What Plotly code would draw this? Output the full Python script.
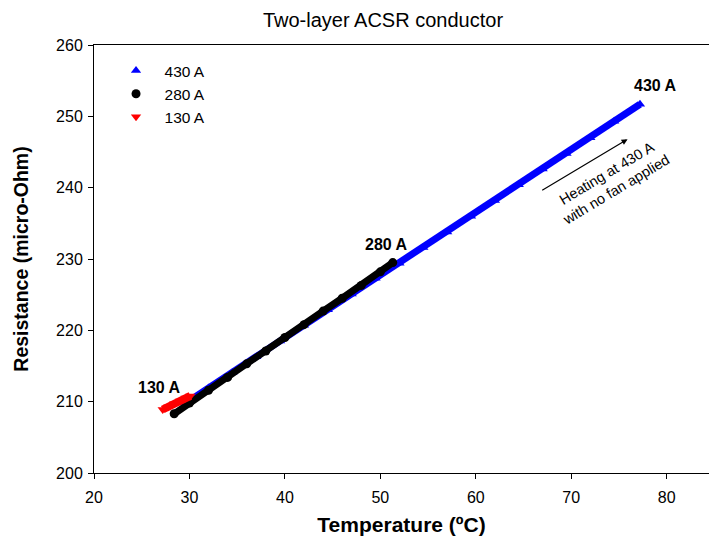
import plotly.graph_objects as go

# 430 A series (temperature degC, resistance micro-Ohm)
t430 = [29.6, 32.0, 34.5, 37.0, 39.5, 42.0, 44.5, 47.0, 49.5, 52.0, 54.5, 57.0,
        59.5, 62.0, 64.5, 67.0, 69.5, 72.0, 74.5, 77.2]
r430 = [209.8, 211.9, 214.1, 216.3, 218.5, 220.7, 222.9, 225.1, 227.3, 229.4, 231.6, 233.8,
        236.0, 238.2, 240.4, 242.6, 244.8, 247.0, 249.3, 251.7]
# 280 A series
t280 = [28.4, 30.0, 32.0, 34.0, 36.0, 38.0, 40.0, 42.0, 44.0, 46.0, 48.0, 50.0, 51.3]
r280 = [208.3, 209.8, 211.6, 213.4, 215.3, 217.1, 219.0, 220.8, 222.7, 224.5, 226.3, 228.2, 229.5]
# 130 A series
t130 = [27.2, 27.8, 28.4, 29.0, 29.6, 30.1]
r130 = [208.9, 209.3, 209.7, 210.1, 210.5, 210.8]

names = ["430 A", "280 A", "130 A"]
colors = ["#0000ff", "#000000", "#ff0000"]
symbols = ["triangle-up", "circle", "triangle-down"]
widths = [7, 7, 8]
xs = [t430, t280, t130]
ys = [r430, r280, r130]

FONT = "Liberation Sans, Arial, sans-serif"

fig = go.Figure()
for x, y, n, c, s, w in zip(xs, ys, names, colors, symbols, widths):
    fig.add_trace(go.Scatter(x=x, y=y, mode="lines", line=dict(color=c, width=w),
                             showlegend=False, hoverinfo="skip"))
    fig.add_trace(go.Scatter(x=x, y=y, mode="markers", name=n,
                             marker=dict(color=c, symbol=s, size=9, line=dict(width=0))))

fig.update_layout(
    width=709, height=544,
    margin=dict(l=94, r=0, t=45, b=71, autoexpand=False),
    paper_bgcolor="white", plot_bgcolor="white",
    font=dict(family=FONT, size=16, color="black"),
    title=dict(text="Two-layer ACSR conductor", x=383/709, xref="container", xanchor="center",
               y=1 - 20/544, yref="container", yanchor="middle", automargin=False,
               font=dict(family=FONT, size=20, color="black")),
    legend=dict(x=0.022, y=0.979, xanchor="left", yanchor="top", bgcolor="rgba(0,0,0,0)",
                font=dict(family=FONT, size=15.5), itemwidth=47, itemsizing="trace"),
    showlegend=True,
)
fig.update_xaxes(range=[20, 20 + 615/9.545], tickvals=[20, 30, 40, 50, 60, 70, 80],
                 showgrid=False, zeroline=False, showline=True, linecolor="black", linewidth=1,
                 mirror=True, ticks="outside", ticklen=5, tickcolor="black", automargin=False,
                 ticklabelstandoff=5,
                 tickfont=dict(family=FONT, size=16),
                 title=dict(text="<b>Temperature (ºC)</b>", font=dict(family=FONT, size=21), standoff=12))
fig.update_yaxes(range=[200, 260], tickvals=[200, 210, 220, 230, 240, 250, 260],
                 showgrid=False, zeroline=False, showline=True, linecolor="black", linewidth=1,
                 ticks="outside", ticklen=5, tickcolor="black", automargin=False,
                 ticklabelstandoff=2,
                 tickfont=dict(family=FONT, size=16),
                 title=dict(text="<b>Resistance (micro-Ohm)</b>", font=dict(family=FONT, size=19.5), standoff=22))

for txt, x, y in [("430 A", 78.8, 254.3), ("280 A", 50.6, 232.0), ("130 A", 26.9, 212.0)]:
    fig.add_annotation(x=x, y=y, text="<b>" + txt + "</b>", showarrow=False,
                       font=dict(family=FONT, size=16, color="black"))

fig.add_annotation(x=75.9, y=246.8, ax=66.8, ay=239.5, axref="x", ayref="y", xref="x", yref="y",
                   text="", showarrow=True, arrowhead=2, arrowsize=1, arrowwidth=1.2, arrowcolor="black")
fig.add_annotation(x=74.2, y=240.9, xref="x", yref="y", text="Heating at 430 A<br>with no fan applied",
                   showarrow=False, textangle=-31, font=dict(family=FONT, size=14.5, color="black"))

fig.write_html("out.html", config={"displayModeBar": False},
               post_script="document.body.style.margin='0';document.body.style.overflow='hidden';")
